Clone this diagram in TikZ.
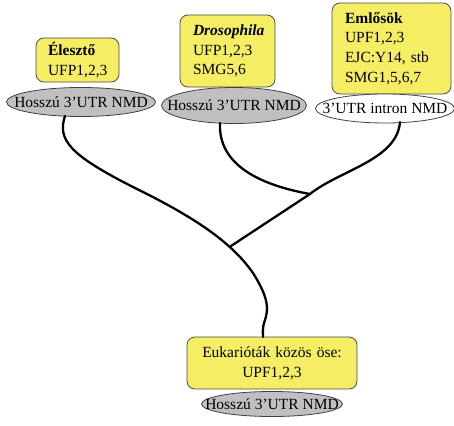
\documentclass[tikz,border=0pt]{standalone}
\usepackage{fontspec}
\setmainfont{Liberation Serif}
\usetikzlibrary{shapes.geometric}
\definecolor{boxyellow}{RGB}{245,238,100}
\definecolor{ellgray}{RGB}{192,192,192}
\newcommand{\ztext}[1]{\makebox[0pt]{#1}}
\begin{document}
\begin{tikzpicture}[x=1pt,y=-1pt,
  box/.style={draw=black!70, line width=0.8pt, fill=boxyellow, rounded corners=8pt,
    font=\fontsize{15.5}{19.7}\selectfont, inner ysep=0pt, align=left},
  ell/.style={ellipse, draw=black!75, line width=0.8pt, inner sep=0pt,
    font=\fontsize{15.5}{18}\selectfont},
  branch/.style={line width=2.3pt, line cap=round}]
\useasboundingbox[fill=white] (0,0) rectangle (454,425);

% boxes
\node[box, inner xsep=12pt, text width=59pt, minimum height=44pt] (b1) at (77.5,60)
  {\textbf{Élesztő}\\UFP1,2,3};
\node[box, inner xsep=13pt, text width=69pt, minimum height=72pt] (b2) at (227.5,51)
  {\textbf{\textit{Drosophila}}\\UFP1,2,3\\SMG5,6};
\node[box, inner xsep=13pt, text width=93pt, minimum height=91pt] (b3) at (391.5,48.5)
  {\textbf{Emlősök}\\UPF1,2,3\\EJC:Y14, stb\\SMG1,5,6,7};
\node[box, inner xsep=5pt, text width=160pt, minimum height=52pt, align=center] (b4) at (272,363)
  {Eukarióták közös öse:\\UPF1,2,3};

% ellipses
\node[ell, fill=ellgray, minimum width=149pt, minimum height=29pt] (e1) at (81,102) {\ztext{Hosszú 3’UTR NMD}};
\node[ell, fill=ellgray, minimum width=145pt, minimum height=36pt] (e2) at (234,105.5) {\ztext{Hosszú 3’UTR NMD}};
\node[ell, fill=white, minimum width=139pt, minimum height=29pt] (e3) at (385,108.5) {\ztext{3’UTR intron NMD}};
\node[ell, fill=ellgray, minimum width=141pt, minimum height=25pt] (e4) at (272,404) {\ztext{Hosszú 3’UTR NMD}};

% tree
\coordinate (s1) at (65,116);
\coordinate (s2) at (220,123);
\coordinate (s3) at (400,122);
\coordinate (j1) at (310,194);
\coordinate (j2) at (231,246);
\coordinate (r) at (263,337);

\draw[branch] (s1) .. controls (57,140) and (70,155) .. (133,187)
  .. controls (190,215) and (230,240) .. (253,273)
  .. controls (270,300) and (268,310) .. (265,320)
  .. controls (262,328) and (263,333) .. (r);
\draw[branch] (s2) .. controls (218,165) and (260,185) .. (j1);
\draw[branch] (s3) .. controls (397,160) and (340,170) .. (j1);
\draw[branch] (j1) -- (j2);
\end{tikzpicture}
\end{document}
